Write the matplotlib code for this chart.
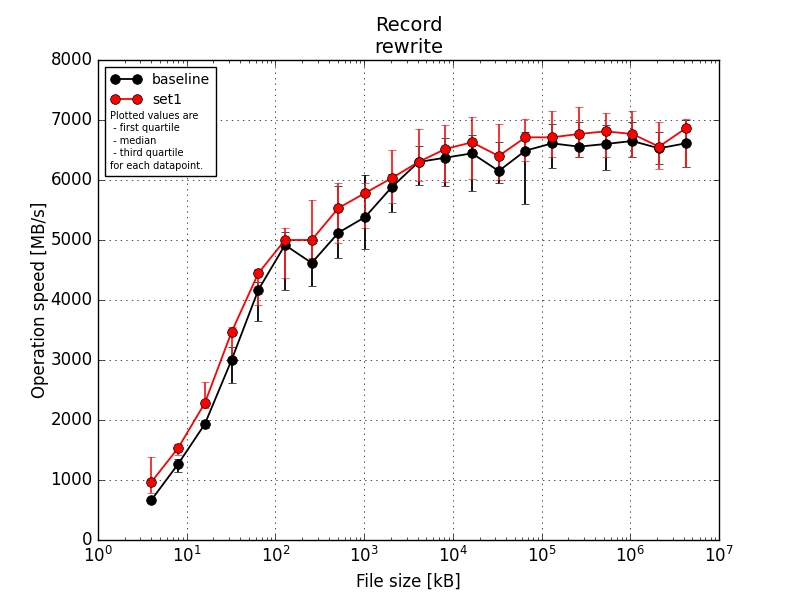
import matplotlib
matplotlib.use("Agg")
import matplotlib.pyplot as plt
from matplotlib.lines import Line2D
from matplotlib.offsetbox import TextArea

# file sizes in kB
sizes = [4, 8, 16, 32, 64, 128, 256, 512, 1024, 2048, 4096, 8192, 16384,
         32768, 65536, 131072, 262144, 524288, 1048576, 2097152, 4194304]

# baseline: median, first quartile, third quartile
base_med = [667, 1267, 1933, 3000, 4167, 4917, 4617, 5122, 5383, 5883, 6300,
            6372, 6444, 6150, 6489, 6611, 6556, 6600, 6650, 6528, 6611]
base_q1 = [640, 1133, 1870, 2617, 3650, 4167, 4233, 4700, 4850, 5467, 5917,
           5900, 5822, 5944, 5594, 6194, 6380, 6167, 6389, 6267, 6222]
base_q3 = [700, 1350, 2000, 3217, 4300, 5139, 5000, 5900, 6083, 6100, 6567,
           6700, 6750, 6639, 6806, 6928, 6961, 6917, 6972, 6806, 7000]

# set1: median, first quartile, third quartile
set1_med = [967, 1533, 2283, 3467, 4444, 5000, 5000, 5533, 5783, 6033, 6300,
            6517, 6628, 6400, 6711, 6711, 6767, 6811, 6767, 6556, 6861]
set1_q1 = [778, 1420, 2200, 3050, 3917, 4367, 4700, 4950, 5200, 5622, 5983,
           5972, 6017, 6000, 6317, 6389, 6389, 6378, 6378, 6178, 6222]
set1_q3 = [1378, 1600, 2639, 3550, 4522, 5194, 5667, 5956, 5956, 6500, 6850,
           6917, 7044, 6928, 7017, 7155, 7211, 7122, 7150, 6972, 7011]

note = ("Plotted values are\n - first quartile\n - median\n"
        " - third quartile\nfor each datapoint.")


def errs(med, q1, q3):
    return [[m - a for m, a in zip(med, q1)], [b - m for m, b in zip(med, q3)]]


def main():
    plt.style.use("classic")
    plt.rcParams["figure.facecolor"] = "white"
    plt.rcParams["mathtext.fontset"] = "dejavusans"

    fig, ax = plt.subplots(figsize=(8, 6), dpi=100)
    fig.subplots_adjust(left=0.1225, right=0.899, bottom=0.1, top=0.9)

    ax.errorbar(sizes, base_med, yerr=errs(base_med, base_q1, base_q3),
                color="black", ecolor="black", marker="o", markersize=7,
                markeredgecolor="black", linewidth=1.3, capsize=3)
    ax.errorbar(sizes, set1_med, yerr=errs(set1_med, set1_q1, set1_q3),
                color="red", ecolor="#ff2020", marker="o", markersize=7,
                markeredgecolor="black", linewidth=1.3, capsize=3)

    ax.set_xscale("log")
    ax.set_xlim(1, 1e7)
    ax.set_ylim(0, 8000)
    ax.grid(True, linestyle=":", color="black")
    ax.set_title("Record\nrewrite", fontsize=14)
    ax.set_xlabel("File size [kB]")
    ax.set_ylabel("Operation speed [MB/s]", labelpad=1)

    handles = [
        Line2D([], [], color="black", marker="o", markersize=7,
               markeredgecolor="black", linewidth=1.3),
        Line2D([], [], color="red", marker="o", markersize=7,
               markeredgecolor="black", linewidth=1.3),
    ]
    leg = ax.legend(handles, ["baseline", "set1"], loc="upper left",
                    numpoints=2, fancybox=False, fontsize=10,
                    alignment="left", handlelength=2.2, labelspacing=0.45,
                    borderaxespad=0.5)
    leg.get_frame().set_edgecolor("black")
    txt = TextArea(note, textprops=dict(size=7, linespacing=1.3))
    leg._legend_box._children.append(txt)
    leg._legend_box.sep = 3
    txt.set_figure(fig)

    fig.savefig("out.png", dpi=100)


if __name__ == "__main__":
    main()
